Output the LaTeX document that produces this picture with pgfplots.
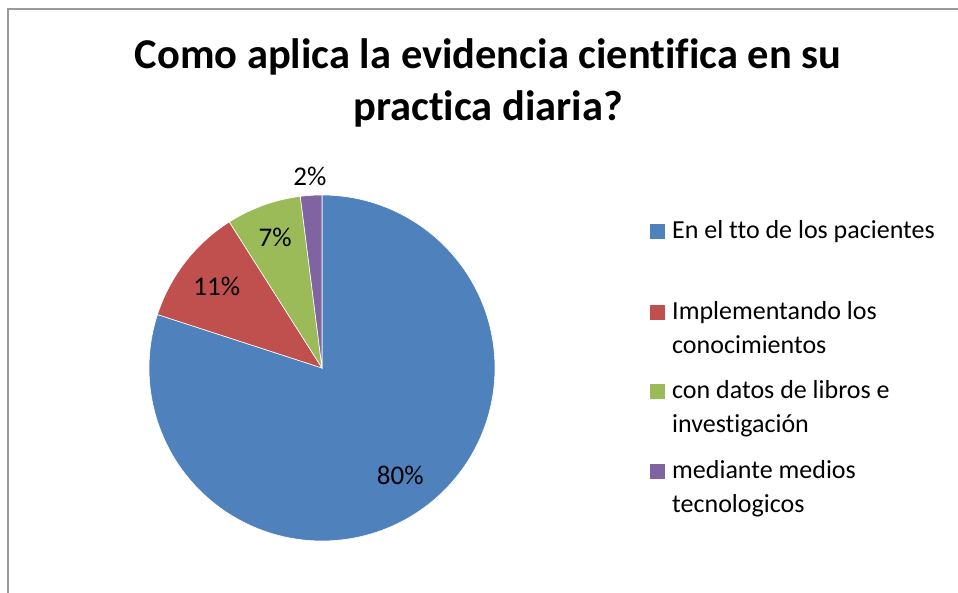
\documentclass[border=0pt]{standalone}
\usepackage{fontspec}
\setmainfont[Ligatures={NoCommon,NoContextual,NoRare}]{Carlito}
\usepackage{pgfplots}
\usepackage{pgfplotstable}
\pgfplotsset{compat=1.18}

\definecolor{sBlue}{HTML}{4F81BD}
\definecolor{sRed}{HTML}{C0504D}
\definecolor{sGreen}{HTML}{9BBB59}
\definecolor{sPurple}{HTML}{8064A2}

% share (%), cumulative start (%), label radius (fraction of r)
\pgfplotstableread{
share start lr
80 0  0.77
11 80 0.77
7  91 0.80
2  98 1.11
}\piedata

\begin{document}
\begin{tikzpicture}[x=1pt,y=1pt]
\useasboundingbox (0,0) rectangle (958,593);
\draw[black!40, line width=1.5pt] (8,0) -- (8,584) -- (958,584);

% title
\node[anchor=base, inner sep=0pt] at (488,524)
  {\fontsize{42.5}{52}\selectfont\bfseries
   \begin{tabular}[t]{@{}c@{}}Como aplica la evidencia cientifica en su\\practica diaria?\end{tabular}};

\begin{axis}[
  at={(322pt,225pt)}, anchor=center,
  width=346pt, height=346pt, scale only axis,
  hide axis, clip=false,
  xmin=-1, xmax=1, ymin=-1, ymax=1,
]
  % slices go clockwise from 12 o'clock, 1% = 3.6 degrees
  \addplot[fill=sBlue, draw=white, line width=0.6pt, domain=0:80, samples=161, variable=\t]
    ({cos(90-3.6*\t)}, {sin(90-3.6*\t)}) -- (0,0) -- cycle;
  \addplot[fill=sRed, draw=white, line width=0.6pt, domain=80:91, samples=30, variable=\t]
    ({cos(90-3.6*\t)}, {sin(90-3.6*\t)}) -- (0,0) -- cycle;
  \addplot[fill=sGreen, draw=white, line width=0.6pt, domain=91:98, samples=20, variable=\t]
    ({cos(90-3.6*\t)}, {sin(90-3.6*\t)}) -- (0,0) -- cycle;
  \addplot[fill=sPurple, draw=white, line width=0.6pt, domain=98:100, samples=10, variable=\t]
    ({cos(90-3.6*\t)}, {sin(90-3.6*\t)}) -- (0,0) -- cycle;

  % percentage labels
  \addplot[draw=none, mark=none,
    point meta=explicit symbolic,
    nodes near coords={\pgfplotspointmeta\%},
    nodes near coords style={anchor=center, inner sep=0pt, text=black,
      font=\fontsize{27}{30}\selectfont}]
    table[
      x expr={\thisrow{lr}*cos(90-3.6*(\thisrow{start}+\thisrow{share}/2))},
      y expr={\thisrow{lr}*sin(90-3.6*(\thisrow{start}+\thisrow{share}/2))},
      meta=share] {\piedata};
\end{axis}

% legend
\begin{scope}[every node/.style={anchor=base west, inner sep=0pt,
    font=\fontsize{26}{33.5}\selectfont}]
  \fill[sBlue]   (650,354) rectangle +(15,15);
  \node at (672,354) {En el tto de los pacientes};
  \fill[sRed]    (650,273) rectangle +(15,15);
  \node at (672,273) {\begin{tabular}[t]{@{}l@{}}Implementando los\\conocimientos\end{tabular}};
  \fill[sGreen]  (650,194) rectangle +(15,15);
  \node at (672,194) {\begin{tabular}[t]{@{}l@{}}con datos de libros e\\investigación\end{tabular}};
  \fill[sPurple] (650,114) rectangle +(15,15);
  \node at (672,114) {\begin{tabular}[t]{@{}l@{}}mediante medios\\tecnologicos\end{tabular}};
\end{scope}
\end{tikzpicture}
\end{document}
